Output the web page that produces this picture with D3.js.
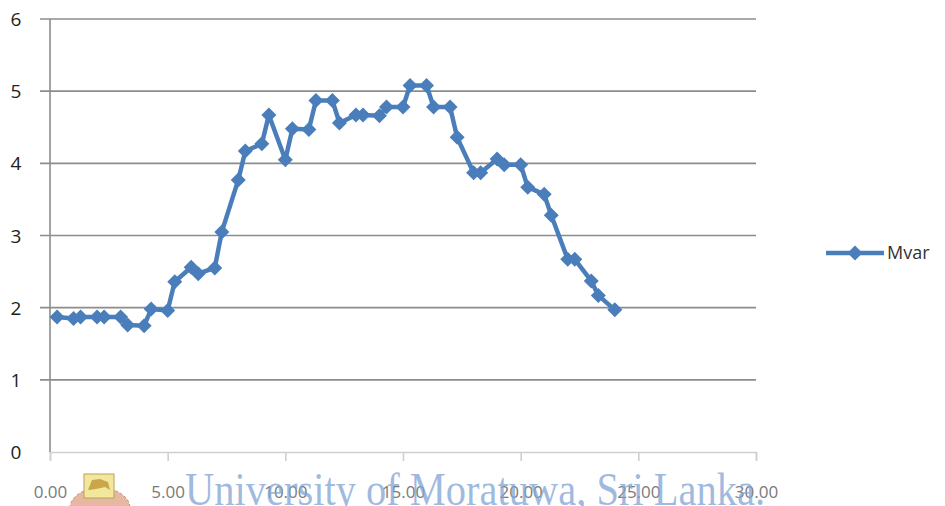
<!DOCTYPE html>
<html><head><meta charset="utf-8">
<script src="https://cdn.jsdelivr.net/npm/d3@7"></script>
<style>html,body{margin:0;padding:0;background:#fff;}svg{display:block;}</style>
</head><body>
<svg id="chart" width="945" height="506"></svg>
<script>
// Data: time of day written as hh.mm (as in the source spreadsheet), Mvar values
const times = [0.30,1.00,1.30,2.00,2.30,3.00,3.30,4.00,4.30,5.00,5.30,6.00,6.30,7.00,7.30,8.00,8.30,9.00,9.30,10.00,10.30,11.00,11.30,12.00,12.30,13.00,13.30,14.00,14.30,15.00,15.30,16.00,16.30,17.00,17.30,18.00,18.30,19.00,19.30,20.00,20.30,21.00,21.30,22.00,22.30,23.00,23.30,24.00];
const mvar  = [1.87,1.85,1.87,1.87,1.87,1.87,1.76,1.75,1.98,1.96,2.36,2.56,2.47,2.55,3.05,3.77,4.17,4.27,4.67,4.05,4.48,4.47,4.87,4.87,4.56,4.67,4.67,4.66,4.78,4.78,5.08,5.08,4.78,4.78,4.36,3.87,3.87,4.06,3.98,3.98,3.67,3.57,3.28,2.67,2.67,2.37,2.17,1.97];
const xTicks = [0,5,10,15,20,25,30];
const yTicks = [0,1,2,3,4,5,6];
const seriesName = "Mvar";
const watermark = "University of Moratuwa, Sri Lanka.";

const svg = d3.select("#chart");
const x = d3.scaleLinear().domain([0,30]).range([50,756]);
const y = d3.scaleLinear().domain([0,6]).range([452,19]);
const blue = "#4a7ebb";
const fontFam = "'Open Sans', 'DejaVu Sans', sans-serif";

// gridlines
svg.append("g").selectAll("line").data(yTicks.filter(d=>d>0)).join("line")
  .attr("x1",40).attr("x2",756).attr("y1",d=>y(d)).attr("y2",d=>y(d))
  .attr("stroke","#8c8c8c").attr("stroke-width",1.6);
// y axis line
svg.append("line").attr("x1",x(0)).attr("x2",x(0)).attr("y1",y(6)).attr("y2",y(0))
  .attr("stroke","#8c8c8c").attr("stroke-width",1.6);
// x axis
const xAxis = d3.axisBottom(x).tickValues(xTicks).tickSize(9).tickFormat(d=>d.toFixed(2));
const gx = svg.append("g").attr("transform",`translate(0,${y(0)})`).call(xAxis);
gx.select(".domain").attr("stroke","#cfcfcf").attr("stroke-width",1.6);
gx.selectAll(".tick line").attr("stroke","#cfcfcf").attr("stroke-width",1.6);
gx.selectAll(".tick text").attr("font-family",fontFam)
  .attr("font-size",17).attr("fill","#7a7a7a").attr("dy",0).attr("y",46);
// y axis labels
const yAxis = d3.axisLeft(y).tickValues(yTicks).tickSize(0).tickFormat(d=>d);
const gy = svg.append("g").attr("transform",`translate(${x(0)},0)`).call(yAxis);
gy.select(".domain").remove();
gy.selectAll(".tick text").attr("font-family",fontFam)
  .attr("font-size",19).attr("fill","#222").attr("x",-34).attr("text-anchor","middle").attr("dy","0.35em");

// series
const pts = times.map((t,i)=>[t,mvar[i]]);
svg.append("path").datum(pts)
  .attr("d", d3.line().x(d=>x(d[0])).y(d=>y(d[1])))
  .attr("fill","none").attr("stroke",blue).attr("stroke-width",4.5).attr("stroke-linejoin","round");
const r = 7.5;
const diamondPath = `M0,${-r}L${r},0L0,${r}L${-r},0Z`;
svg.append("g").selectAll("path").data(pts).join("path")
  .attr("d", diamondPath).attr("transform",d=>`translate(${x(d[0])},${y(d[1])})`)
  .attr("fill",blue);

// legend
const lg = svg.append("g").attr("transform","translate(826,253)");
lg.append("line").attr("x1",0).attr("x2",58).attr("stroke",blue).attr("stroke-width",4.5);
lg.append("path").attr("d",diamondPath).attr("transform","translate(29,0)").attr("fill",blue);
lg.append("text").attr("x",61).attr("y",0).attr("dy","0.35em").text(seriesName)
  .attr("font-family",fontFam).attr("font-size",18).attr("fill","#333");

// small crest logo
const logo = svg.append("g").attr("transform","translate(78,472)");
logo.append("path").attr("d","M-8,36 A30,20 0 0 1 52,36 L52,40 L-8,40 Z").attr("fill","#e6b8a2").attr("stroke","#c98f78").attr("stroke-dasharray","3,2");
logo.append("rect").attr("x",6).attr("y",2).attr("width",30).attr("height",24).attr("fill","#f2e79a").attr("stroke","#b9a25a");
logo.append("path").attr("d","M10,18 L14,8 L22,7 L30,10 L32,18 L27,15 L18,17 Z").attr("fill","#c9a64a");

// watermark
svg.append("text").attr("x",185).attr("y",505).text(watermark)
  .attr("font-family","'Liberation Serif', 'DejaVu Serif', serif").attr("font-size",46)
  .attr("textLength",580).attr("lengthAdjust","spacingAndGlyphs")
  .attr("fill","#7fa4d4").attr("fill-opacity",0.75);
</script>
</body></html>
